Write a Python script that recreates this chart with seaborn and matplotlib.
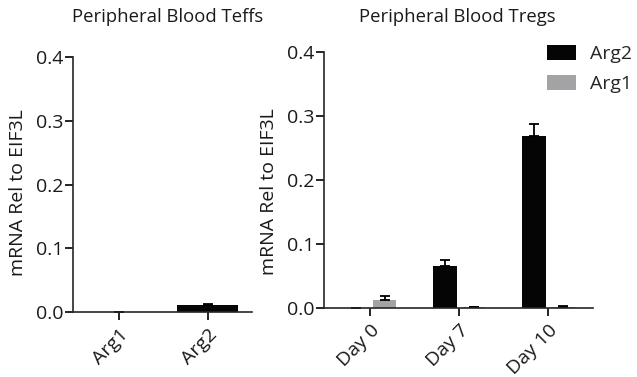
import matplotlib
matplotlib.use("Agg")
import matplotlib.pyplot as plt
import seaborn as sns
import pandas as pd
import numpy as np

# ---- data ----
teff_genes = ["Arg1", "Arg2"]
teff_mean = [0.0003, 0.011]
teff_err = [0.0, 0.0008]

days = ["Day 0", "Day 7", "Day 10"]
treg_arg2 = [0.0, 0.066, 0.268]
treg_arg2_err = [0.0, 0.0095, 0.020]
treg_arg1 = [0.013, 0.001, 0.002]
treg_arg1_err = [0.0055, 0.0003, 0.0004]

genes_order = ["Arg2", "Arg1"]
colors = {"Arg2": "#050505", "Arg1": "#a3a3a6"}

sns.set_theme(style="ticks")
plt.rcParams["font.family"] = ["Open Sans", "DejaVu Sans"]
plt.rcParams["axes.linewidth"] = 1.2

W, H = 637, 377
fig = plt.figure(figsize=(6.37, 3.77), dpi=100)
ax1 = fig.add_axes([73/W, 1-312/H, 179/W, 255/H])
ax2 = fig.add_axes([324/W, 1-308/H, 269/W, 256/H])

# ---- left panel ----
df1 = pd.DataFrame({"gene": teff_genes, "val": teff_mean})
sns.barplot(data=df1, x="gene", y="val", color="#050505", width=0.69,
            errorbar=None, ax=ax1, edgecolor="none")
xs = [p.get_x() + p.get_width()/2 for p in ax1.patches]
ax1.errorbar(xs, teff_mean, yerr=[np.zeros(len(teff_err)), teff_err],
             fmt="none", ecolor="black", elinewidth=1.3, capsize=3.5, capthick=1.3)

# ---- right panel ----
df2 = pd.DataFrame({
    "day": days * 2,
    "gene": ["Arg2"] * len(days) + ["Arg1"] * len(days),
    "val": treg_arg2 + treg_arg1,
})
errs2 = {"Arg2": treg_arg2_err, "Arg1": treg_arg1_err}
vals2 = {"Arg2": treg_arg2, "Arg1": treg_arg1}
sns.barplot(data=df2, x="day", y="val", hue="gene", hue_order=genes_order,
            palette=colors, width=0.64, gap=0.17, errorbar=None, ax=ax2,
            edgecolor="none")
for cont, g in zip(ax2.containers, genes_order):
    xs = [p.get_x() + p.get_width()/2 for p in cont.patches]
    e = errs2[g]
    ax2.errorbar(xs, vals2[g], yerr=[np.zeros(len(e)), e], fmt="none",
                 ecolor="black", elinewidth=1.3, capsize=3.5, capthick=1.3)

handles, labels = ax2.get_legend_handles_labels()
if ax2.get_legend() is not None:
    ax2.get_legend().remove()

panels = [
    (ax1, "Peripheral Blood Teffs", 2, 168, -0.257, 0.47),
    (ax2, "Peripheral Blood Tregs", 3, 457, -0.171, 0.453),
]
for ax, title, n, tx, lx, ly in panels:
    ax.set_ylim(0, 0.4)
    ax.set_xlim(-0.52, n - 0.5)
    ax.set_yticks([0.0, 0.1, 0.2, 0.3, 0.4])
    ax.set_yticklabels(["0.0", "0.1", "0.2", "0.3", "0.4"])
    ax.set_xlabel("")
    ax.set_ylabel("mRNA Rel to EIF3L", fontsize=14, color="#1a1a1a")
    ax.yaxis.set_label_coords(lx, ly)
    fig.text(tx/W, 1-17/H, title, fontsize=13.3, color="#1a1a1a",
             ha="center", va="center")
    sns.despine(ax=ax)
    ax.tick_params(axis="both", length=6, width=1.2, colors="black",
                   labelsize=14, labelcolor="#1a1a1a")
    ax.tick_params(axis="y", pad=1)
    for lab in ax.get_xticklabels():
        lab.set_rotation(45)
        lab.set_ha("right")
        lab.set_rotation_mode("anchor")
        lab.set_fontsize(14)

fig.legend(handles, labels, loc="upper left", bbox_to_anchor=(547/W, 1-45/H),
           frameon=False, fontsize=14, handlelength=1.5, handleheight=0.8,
           handletextpad=0.7, labelspacing=0.6, borderpad=0, borderaxespad=0)

fig.savefig("out.png", dpi=100)
